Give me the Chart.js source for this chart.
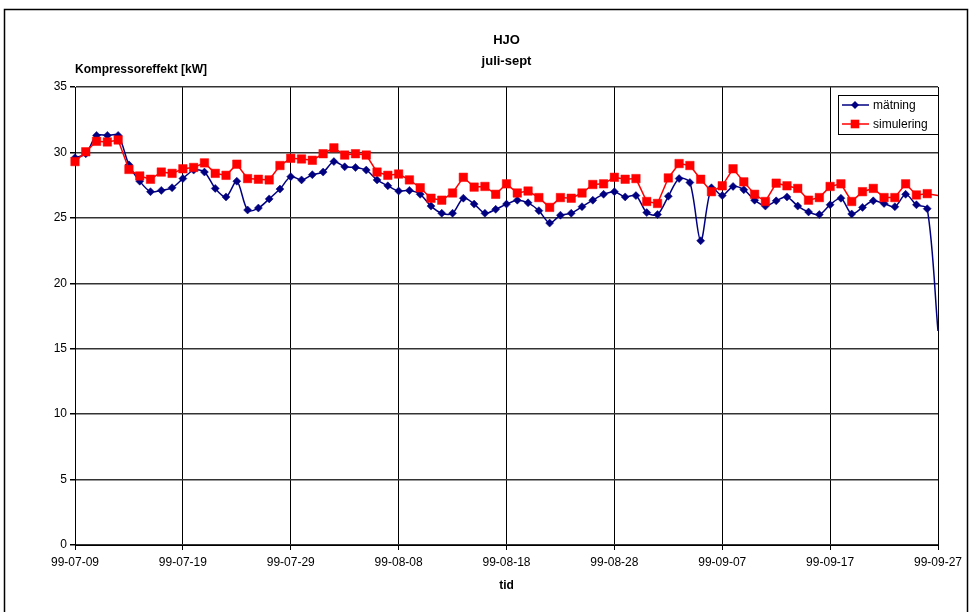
<!DOCTYPE html>
<html>
<head>
<meta charset="utf-8">
<script src="https://cdn.jsdelivr.net/npm/chart.js@4.4.0/dist/chart.umd.min.js"></script>
<style>
  html, body { margin: 0; padding: 0; background: #fff; }
  canvas { display: block; }
</style>
</head>
<body>
<canvas id="c" width="971" height="612"></canvas>
<script>
// Daily measurement dates (yy-mm-dd)
const dates = [
  '99-07-09','99-07-10','99-07-11','99-07-12','99-07-13','99-07-14','99-07-15','99-07-16','99-07-17','99-07-18',
  '99-07-19','99-07-20','99-07-21','99-07-22','99-07-23','99-07-24','99-07-25','99-07-26','99-07-27','99-07-28',
  '99-07-29','99-07-30','99-07-31','99-08-01','99-08-02','99-08-03','99-08-04','99-08-05','99-08-06','99-08-07',
  '99-08-08','99-08-09','99-08-10','99-08-11','99-08-12','99-08-13','99-08-14','99-08-15','99-08-16','99-08-17',
  '99-08-18','99-08-19','99-08-20','99-08-21','99-08-22','99-08-23','99-08-24','99-08-25','99-08-26','99-08-27',
  '99-08-28','99-08-29','99-08-30','99-08-31','99-09-01','99-09-02','99-09-03','99-09-04','99-09-05','99-09-06',
  '99-09-07','99-09-08','99-09-09','99-09-10','99-09-11','99-09-12','99-09-13','99-09-14','99-09-15','99-09-16',
  '99-09-17','99-09-18','99-09-19','99-09-20','99-09-21','99-09-22','99-09-23','99-09-24','99-09-25','99-09-26',
  '99-09-27'
];

// Measured compressor power [kW]
const matning = [
  29.6, 29.9, 31.3, 31.3, 31.3, 29.05, 27.8, 27.0, 27.1, 27.3,
  28.0, 28.65, 28.5, 27.25, 26.6, 27.8, 25.6, 25.75, 26.45, 27.2,
  28.15, 27.9, 28.3, 28.5, 29.3, 28.9, 28.85, 28.65, 27.9, 27.45,
  27.05, 27.1, 26.8, 25.9, 25.35, 25.35, 26.5, 26.05, 25.35, 25.65,
  26.05, 26.35, 26.15, 25.55, 24.6, 25.2, 25.35, 25.85, 26.35, 26.8,
  27.0, 26.6, 26.7, 25.4, 25.25, 26.65, 28.0, 27.7, 23.25, 27.3,
  26.7, 27.4, 27.15, 26.35, 25.9, 26.3, 26.6, 25.9, 25.45, 25.25,
  26.0, 26.5, 25.3, 25.8, 26.3, 26.1, 25.85, 26.8, 26.0, 25.7,
  16.35
];

// Simulated compressor power [kW]
const simulering = [
  29.3, 30.05, 30.85, 30.8, 30.95, 28.7, 28.2, 27.95, 28.5, 28.4,
  28.75, 28.85, 29.2, 28.4, 28.25, 29.1, 28.0, 27.95, 27.9, 29.0,
  29.55, 29.5, 29.4, 29.9, 30.35, 29.8, 29.9, 29.8, 28.5, 28.25,
  28.35, 27.9, 27.3, 26.5, 26.35, 26.9, 28.1, 27.35, 27.4, 26.8,
  27.6, 26.9, 27.05, 26.55, 25.8, 26.55, 26.5, 26.9, 27.55, 27.6,
  28.1, 27.95, 28.0, 26.25, 26.1, 28.05, 29.15, 29.0, 27.95, 27.0,
  27.45, 28.75, 27.75, 26.8, 26.25, 27.65, 27.45, 27.25, 26.35, 26.55,
  27.4, 27.6, 26.25, 27.0, 27.25, 26.55, 26.55, 27.6, 26.75, 26.85,
  26.7
];

const titleLines = ['HJO', 'juli-sept'];
const yTitle = 'Kompressoreffekt [kW]';
const xTitle = 'tid';
const seriesNames = ['mätning', 'simulering'];
const labelEvery = 10;

const FONT = '"Liberation Sans", Arial, Helvetica, sans-serif';
Chart.defaults.font.family = FONT;
Chart.defaults.font.size = 12;
Chart.defaults.color = '#000';

const lastIdx = dates.length - 1;

function diamond(ctx, x, y, r, color) {
  ctx.beginPath();
  ctx.moveTo(x, y - r); ctx.lineTo(x + r, y); ctx.lineTo(x, y + r); ctx.lineTo(x - r, y);
  ctx.closePath(); ctx.fillStyle = color; ctx.fill();
}
function square(ctx, x, y, h, color) {
  ctx.fillStyle = color; ctx.fillRect(x - h, y - h, 2 * h, 2 * h);
}

// Frame, titles and boxed legend
const decor = {
  id: 'decor',
  afterDraw(chart) {
    const ctx = chart.ctx, a = chart.chartArea;
    ctx.save();
    ctx.strokeStyle = '#000'; ctx.lineWidth = 1.5;
    ctx.strokeRect(4.5, 9.5, 963, 610);

    const cx = (a.left + a.right) / 2;
    ctx.fillStyle = '#000';
    ctx.textAlign = 'center'; ctx.textBaseline = 'middle';
    ctx.font = 'bold 13px ' + FONT;
    ctx.fillText(titleLines[0], cx, 40);
    ctx.fillText(titleLines[1], cx, 61);
    ctx.font = 'bold 12px ' + FONT;
    ctx.fillText(xTitle, cx, 586);
    ctx.textAlign = 'left';
    ctx.fillText(yTitle, a.left, 70);

    // legend box
    const lx = 838, ly = 95, lw = 100, lh = 39;
    ctx.fillStyle = '#fff';
    ctx.fillRect(lx, ly, lw, lh);
    ctx.strokeStyle = '#000'; ctx.lineWidth = 1;
    ctx.strokeRect(lx + 0.5, ly + 0.5, lw, lh);
    const rows = [
      { y: ly + 10, color: '#000080', mark: 'd' },
      { y: ly + 29, color: '#ff0000', mark: 's' }
    ];
    rows.forEach((r, i) => {
      ctx.strokeStyle = r.color; ctx.lineWidth = 1.5;
      ctx.beginPath(); ctx.moveTo(lx + 4, r.y); ctx.lineTo(lx + 31, r.y); ctx.stroke();
      if (r.mark === 'd') diamond(ctx, lx + 17, r.y, 4, r.color);
      else square(ctx, lx + 17, r.y, 4.3, r.color);
      ctx.fillStyle = '#000';
      ctx.font = '12px ' + FONT;
      ctx.textBaseline = 'middle';
      ctx.fillText(seriesNames[i], lx + 35, r.y + 1);
    });
    ctx.restore();
  }
};

const tickCol = c => (c.index % labelEvery === 0 ? '#000' : 'rgba(0,0,0,0)');

new Chart(document.getElementById('c'), {
  type: 'line',
  data: {
    labels: dates,
    datasets: [
      {
        label: seriesNames[0], data: matning, order: 1,
        borderColor: '#000080', backgroundColor: '#000080', borderWidth: 1.5,
        pointStyle: 'rectRot', pointRadius: c => (c.dataIndex === lastIdx ? 0 : 4),
        pointBorderWidth: 0.5, pointBorderColor: '#000080',
        tension: 0.3, clip: false
      },
      {
        label: seriesNames[1], data: simulering, order: 0,
        borderColor: '#ff0000', backgroundColor: '#ff0000', borderWidth: 1.5,
        pointStyle: 'rect', pointRadius: c => (c.dataIndex === lastIdx ? 0 : 6),
        pointBorderWidth: 0.5, pointBorderColor: '#ff0000',
        tension: 0, clip: false
      }
    ]
  },
  options: {
    responsive: false,
    animation: false,
    layout: { padding: { left: 0, right: 33, top: 87, bottom: 0 } },
    plugins: { legend: { display: false }, title: { display: false }, tooltip: { enabled: false } },
    scales: {
      x: {
        type: 'category', offset: false,
        grid: { color: tickCol, tickColor: tickCol, lineWidth: 1, tickLength: 5 },
        border: { color: '#000', width: 1 },
        ticks: {
          autoSkip: false, maxRotation: 0, minRotation: 0, padding: 5,
          callback: (v, i) => (i % labelEvery === 0 ? dates[i] : ''),
          font: { size: 12 }
        },
        afterFit: s => { s.height = 67; }
      },
      y: {
        min: 0, max: 35,
        ticks: { stepSize: 5, padding: 3, font: { size: 12 } },
        grid: { color: '#333', lineWidth: 1.5, tickLength: 5, tickColor: '#000' },
        border: { color: '#000', width: 1 },
        afterFit: s => { s.width = 75; }
      }
    }
  },
  plugins: [decor]
});
</script>
</body>
</html>
